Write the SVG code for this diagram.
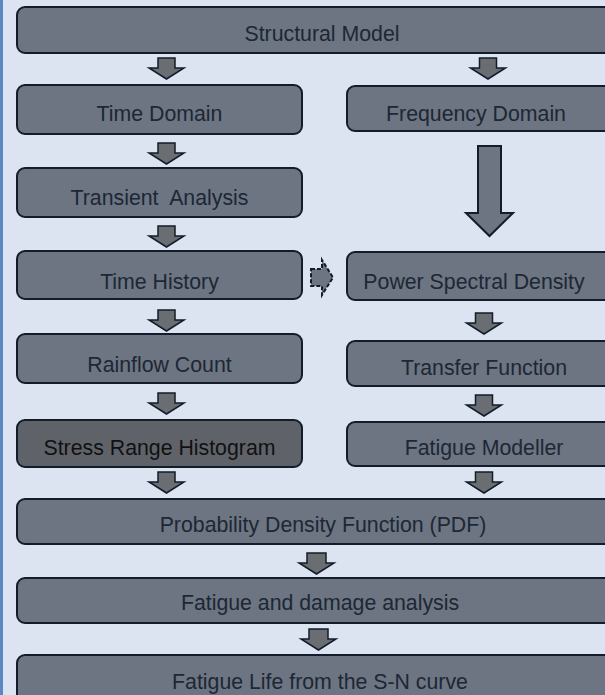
<svg xmlns="http://www.w3.org/2000/svg" width="605" height="695" viewBox="0 0 605 695">
<style>
.bg{fill:#dbe4f0}
.box{fill:#6c7581;stroke:#131c29;stroke-width:2}
.dark{fill:#5f6369;stroke:#131c29;stroke-width:2}
.t{font-family:"Liberation Sans",Arial,sans-serif;font-size:21.3px;fill:#1d2735;text-anchor:middle;white-space:pre}
.arr{fill:#6a6e73;stroke:#131c29;stroke-width:1.5;stroke-linejoin:miter}
.big{fill:#6c7581;stroke:#131c29;stroke-width:2}
.dash{fill:#6c7581;stroke:#131c29;stroke-width:2;stroke-dasharray:4 2}
</style>
<rect class="bg" x="0" y="0" width="605" height="695"/>
<rect x="0" y="0" width="3" height="695" fill="#5a88c4"/>
<g id="connectors">
<path class="arr" d="M158,58 H175 V68 H184 L166.5,79 L149,68 H158 Z"/>
<path class="arr" d="M158,143 H175 V153 H184 L166.5,164 L149,153 H158 Z"/>
<path class="arr" d="M158,226 H175 V236 H184 L166.5,247 L149,236 H158 Z"/>
<path class="arr" d="M158,310 H175 V320 H184 L166.5,331 L149,320 H158 Z"/>
<path class="arr" d="M158,393 H175 V403 H184 L166.5,414 L149,403 H158 Z"/>
<path class="arr" d="M158,472 H175 V482 H184 L166.5,493 L149,482 H158 Z"/>
<path class="arr" d="M479.5,58 H496.5 V68 H505.5 L488,79 L470.5,68 H479.5 Z"/>
<path class="arr" d="M475.5,313 H492.5 V323 H501.5 L484,334 L466.5,323 H475.5 Z"/>
<path class="arr" d="M475.5,395 H492.5 V405 H501.5 L484,416 L466.5,405 H475.5 Z"/>
<path class="arr" d="M475.5,472 H492.5 V482 H501.5 L484,493 L466.5,482 H475.5 Z"/>
<path class="arr" d="M307,553 H326 V563 H334 L316.5,574 L299,563 H307 Z"/>
<path class="arr" d="M309,629 H328 V639 H336 L318.5,650 L301,639 H309 Z"/>
<path class="big" d="M478,146 H501 V213 H513 L489.5,236 L466,213 H478 Z"/>
<path class="dash" d="M311,269 H322 V260 L333,277.5 L322,295 V286 H311 Z"/>
</g>
<g id="structural-model"><rect class="box" x="17" y="7" width="610" height="46" rx="8"/><text class="t" x="322" y="41">Structural Model</text></g>
<g id="time-domain"><rect class="box" x="17" y="85" width="285" height="49" rx="8"/><text class="t" x="159.5" y="121">Time Domain</text></g>
<g id="frequency-domain"><rect class="box" x="347" y="86" width="266" height="45" rx="8"/><text class="t" x="476" y="121">Frequency Domain</text></g>
<g id="transient-analysis"><rect class="box" x="17" y="168" width="285" height="49" rx="8"/><text class="t" x="159.5" y="205">Transient  Analysis</text></g>
<g id="time-history"><rect class="box" x="17" y="251" width="285" height="48" rx="8"/><text class="t" x="159.5" y="289">Time History</text></g>
<g id="power-spectral-density"><rect class="box" x="347" y="252" width="266" height="48" rx="8"/><text class="t" x="474" y="289">Power Spectral Density</text></g>
<g id="rainflow-count"><rect class="box" x="17" y="334" width="285" height="49" rx="8"/><text class="t" x="159.5" y="372">Rainflow Count</text></g>
<g id="transfer-function"><rect class="box" x="347" y="341" width="266" height="45" rx="8"/><text class="t" x="484" y="375">Transfer Function</text></g>
<g id="stress-range-histogram"><rect class="dark" x="17" y="420" width="285" height="47" rx="8"/><text class="t" x="159.5" y="455" style="fill:#111">Stress Range Histogram</text></g>
<g id="fatigue-modeller"><rect class="box" x="347" y="422" width="266" height="44" rx="8"/><text class="t" x="484" y="455">Fatigue Modeller</text></g>
<g id="pdf"><rect class="box" x="17" y="499" width="610" height="45" rx="8"/><text class="t" x="323" y="532">Probability Density Function (PDF)</text></g>
<g id="fatigue-damage"><rect class="box" x="17" y="578" width="610" height="45" rx="8"/><text class="t" x="320" y="610">Fatigue and damage analysis</text></g>
<g id="fatigue-life"><rect class="box" x="17" y="655" width="610" height="60" rx="8"/><text class="t" x="320" y="689">Fatigue Life from the S-N curve</text></g>
</svg>
